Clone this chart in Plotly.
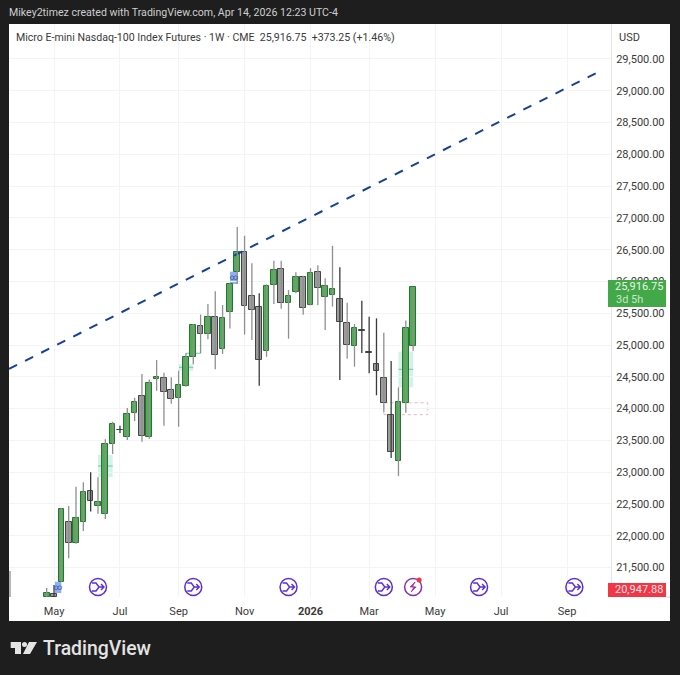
import pandas as pd
import plotly.graph_objects as go

# weekly candles, first one is the week of Apr 28 2025
first_week = "2025-04-28"
opens = [21035, 21090, 21280, 22210, 21880, 22210, 22705, 22475, 22340, 23445, 23665, 23560, 23935,
         24205, 23550, 24460, 24485, 24295, 24170, 24360, 24810, 25300, 25175, 25445, 24935, 25520,
         26150, 26470, 25765, 25595, 24900, 25940, 26200, 25665, 25835, 26070, 25630, 26150, 25760,
         25790, 25730, 25345, 24990, 25235, 24885, 24700, 24485, 23900, 23180, 24085, 24990]
highs = [21180, 21225, 22435, 22470, 22770, 22840, 23000, 22920, 23520, 23795, 23730, 24010, 24170,
         24545, 24460, 24765, 24565, 24495, 24595, 24870, 25330, 25480, 25645, 25845, 25630, 25980,
         26855, 26720, 26285, 25815, 25955, 26325, 26325, 25865, 26145, 26090, 26210, 26255, 26050,
         26560, 26225, 25665, 25330, 25695, 25445, 25420, 25195, 24750, 24335, 25385, 25916.75]
lows = [21030, 21035, 21275, 21645, 21875, 22075, 22380, 22345, 22265, 23285, 23615, 23505, 23805,
        23480, 23525, 24280, 23730, 24075, 23715, 24345, 24700, 24870, 25090, 24620, 24860, 25260,
        25960, 25165, 25080, 24360, 24815, 25645, 25570, 25100, 25815, 25475, 25625, 25625, 25235,
        25605, 24450, 24785, 24660, 24875, 24555, 24210, 23950, 23225, 22940, 23935, 24912]
closes = [21095, 21040, 22415, 21880, 22280, 22695, 22550, 22530, 23440, 23755, 23660, 23910, 24110,
          23575, 24400, 24505, 24260, 24155, 24375, 24810, 25315, 25175, 25435, 24850, 25430, 25955,
          26460, 25615, 25545, 24760, 25935, 26180, 25665, 25775, 26065, 25590, 26140, 25895, 25935,
          25875, 25370, 25005, 25270, 25215, 24870, 24590, 24090, 23315, 24110, 25265, 25916.75]
dark_wick_weeks = [1, 6, 10, 29, 40, 43, 44, 45, 47]

last_price = 25916.75
price_ticks = [21500, 22000, 22500, 23000, 23500, 24000, 24500, 25000, 25500, 26000, 26500, 27000,
               27500, 28000, 28500, 29000, 29500]
date_ticks = ["2025-05-05", "2025-07-07", "2025-09-01", "2025-11-03", "2026-01-05", "2026-03-02",
              "2026-05-04", "2026-07-06", "2026-09-07"]
date_labels = ["May", "Jul", "Sep", "Nov", "<b>2026</b>", "Mar", "May", "Jul", "Sep"]

trend_dates = ["2025-03-23", "2026-10-05"]
trend_prices = [24624, 29280]

# drawn zones: start, end, top, bottom
fvg_start = ["2025-06-16", "2025-09-01", "2026-03-30"]
fvg_end = ["2025-06-30", "2025-09-15", "2026-04-13"]
fvg_top = [23271, 24698, 24896]
fvg_bottom = [22925, 24597, 24336]
fvg_mid = [23098, 24650, 24619]
order_start = ["2025-05-05", "2025-10-20"]
order_end = ["2025-05-12", "2025-10-27"]
order_top = [21278, 26154]
order_bottom = [21100, 25961]
rollover_dates = ["2025-06-16", "2025-09-15", "2025-12-15", "2026-03-16", "2026-06-15", "2026-09-14"]
earnings_date = "2026-04-13"
icon_price = 21195

GREEN = "#4caf50"
GREEN_EDGE = "#2a7433"
GRAY = "#9c9c9c"
GRAY_EDGE = "#444444"
BG = "#1e1e1e"
PURPLE = "#5a2fd6"
FONT = "Roboto"

# pixel helpers for the non data furniture
L, R, T, B = 9, 611, 24, 597
def px(x):
    return (x - L) / (R - L)
def py(y):
    return (B - y) / (B - T)

weeks = pd.date_range(first_week, periods=len(opens), freq="7D")
df = pd.DataFrame({"date": weeks, "open": opens, "high": highs, "low": lows, "close": closes})
df["up"] = df["close"] >= df["open"]
df["dark"] = df.index.isin(dark_wick_weeks)

fig = go.Figure()

# zones sit under the candles
for x0, x1, y1, y0, mid in zip(fvg_start, fvg_end, fvg_top, fvg_bottom, fvg_mid):
    fig.add_shape(type="rect", x0=x0, x1=x1, y0=y0, y1=y1, layer="below",
                  fillcolor="rgba(120,205,190,0.30)", line_width=0)
    fig.add_shape(type="line", x0=x0, x1=x1, y0=mid, y1=mid, layer="below",
                  line=dict(color="#6cc7b4", width=1))
for x0, x1, y1, y0 in zip(order_start, order_end, order_top, order_bottom):
    fig.add_shape(type="rect", x0=x0, x1=x1, y0=y0, y1=y1, layer="below",
                  fillcolor="#8fb0f8", line_width=0)
    fig.add_annotation(x=pd.Timestamp(x0) + pd.Timedelta(days=3.5), y=(y0 + y1) / 2, text="∞",
                       showarrow=False, font=dict(family=FONT, size=8, color="#34508f"))
fig.add_shape(type="rect", x0="2026-03-16", x1="2026-04-27", y0=23905, y1=24092, layer="below",
              fillcolor="rgba(0,0,0,0)", line=dict(color="#efb4bb", width=1, dash="dot"))
fig.add_shape(type="line", x0="2025-09-08", x1="2025-09-22", y0=24871, y1=24871, layer="below",
              line=dict(color="#6cc7b4", width=1))

# last price line
fig.add_hline(y=last_price, line=dict(color="#7fa987", width=1, dash="dot"), layer="below")

# trend line
fig.add_trace(go.Scatter(x=trend_dates, y=trend_prices, mode="lines",
                         line=dict(color="#173f9e", width=2, dash="9px,9px"), hoverinfo="skip"))

# wicks
for is_dark, color in [(False, "#8f8f8f"), (True, "#3a3a3a")]:
    part = df[df["dark"] == is_dark]
    wick_x, wick_y = [], []
    for _, row in part.iterrows():
        wick_x += [row["date"], row["date"], None]
        wick_y += [row["low"], row["high"], None]
    fig.add_trace(go.Scatter(x=wick_x, y=wick_y, mode="lines", line=dict(color=color, width=1.3),
                             hoverinfo="skip"))

# bodies
for is_up, fill, edge in [(True, GREEN, GREEN_EDGE), (False, GRAY, GRAY_EDGE)]:
    part = df[df["up"] == is_up]
    fig.add_trace(go.Bar(x=part["date"], y=part["close"] - part["open"], base=part["open"],
                         width=5.4 * 86400000, marker=dict(color=fill, line=dict(color=edge, width=1))))

# events along the bottom
fig.add_trace(go.Scatter(x=rollover_dates, y=[icon_price] * len(rollover_dates), mode="markers",
                         marker=dict(symbol="circle-open", size=17, color=PURPLE, line=dict(width=1.5, color=PURPLE)),
                         hoverinfo="skip"))
fig.add_trace(go.Scatter(x=[earnings_date], y=[icon_price], mode="markers",
                         marker=dict(symbol="circle-open", size=17, color="#8a2fb5", line=dict(width=1.5, color="#8a2fb5")),
                         hoverinfo="skip"))
for d in rollover_dates:
    fig.add_shape(type="path", xref="x", yref="y", xsizemode="pixel", ysizemode="pixel",
                  xanchor=d, yanchor=icon_price,
                  path="M -6 -4 L -2 -4 L 1 0 L 6 0 M -6 4 L -2 4 L 1 0 M 3 -3 L 6 0 L 3 3",
                  line=dict(color=PURPLE, width=1.4))
fig.add_shape(type="path", xref="x", yref="y", xsizemode="pixel", ysizemode="pixel",
              xanchor=earnings_date, yanchor=icon_price,
              path="M 2 5 L -3 0 L 1 0 L -2 -5 L 3 0 L -1 0 Z",
              fillcolor="#a32a9c", line=dict(color="#a32a9c", width=0.8))
fig.add_shape(type="circle", xref="x", yref="y", xsizemode="pixel", ysizemode="pixel",
              xanchor=earnings_date, yanchor=icon_price, x0=3.5, x1=8.5, y0=4.5, y1=9.5,
              fillcolor="#f23645", line_width=0)

# white panel, price axis and labels
fig.add_shape(type="rect", xref="paper", yref="paper", x0=px(9), x1=px(670), y0=py(621), y1=py(24),
              fillcolor="white", line_width=0, layer="below")
fig.add_shape(type="rect", xref="paper", yref="paper", x0=px(9), x1=px(11), y0=py(597), y1=py(571),
              fillcolor="#b5b5b5", line_width=0)
fig.add_shape(type="rect", xref="paper", yref="paper", x0=px(608), x1=px(666), y0=py(307), y1=py(280),
              fillcolor="#43a848", line_width=0)
fig.add_shape(type="rect", xref="paper", yref="paper", x0=px(608), x1=px(666), y0=py(597), y1=py(583),
              fillcolor="#f23645", line_width=0)
fig.add_shape(type="line", xref="paper", yref="paper", x0=px(666), x1=px(670), y0=py(597), y1=py(597),
              line=dict(color="#cfcfcf", width=1))

# TradingView logo
logo = ("M 10.7 642 L 21 642 L 21 654 L 15 654 L 15 648 L 10.7 648 Z "
        "M 29 642 L 37 642 L 30 654 L 23 654 Z")
def logo_path():
    parts = logo.split()
    out, i = [], 0
    while i < len(parts):
        if parts[i] in "MLZ":
            out.append(parts[i])
            i += 1
        else:
            out.append(f"{px(float(parts[i])):.5f},{py(float(parts[i + 1])):.5f}")
            i += 2
    return " ".join(out)
fig.add_shape(type="path", xref="paper", yref="paper", path=logo_path(), fillcolor="#e4e4e4", line_width=0)
fig.add_shape(type="circle", xref="paper", yref="paper", x0=px(22), x1=px(27), y0=py(647), y1=py(642),
              fillcolor="#e4e4e4", line_width=0)

def label(x, y, text, color, size=11, anchor="left", weight=None):
    font = dict(family=FONT, size=size, color=color)
    if weight:
        font["weight"] = weight
    fig.add_annotation(xref="paper", yref="paper", x=px(x), y=py(y), text=text, showarrow=False,
                       xanchor=anchor, yanchor="middle", font=font, borderpad=0, borderwidth=0)

label(9, 13, "Mikey2timez created with TradingView.com, Apr 14, 2026 12:23 UTC-4", "#cfcfcf", 10.6)
label(16, 37, "Micro E-mini Nasdaq-100 Index Futures · 1W · CME  25,916.75  +373.25 (+1.46%)", "#3a3a3a", 10.6)
label(619, 38, "USD", "#3a3a3a", 11)
label(639, 287, "25,916.75", "#e8f5e9", 11, "center")
label(616, 299, "3d 5h", "#c8e6c9", 11)
label(639, 589.5, "20,947.88", "#fde3e5", 11, "center")
label(43, 648.5, "TradingView", "#e4e4e4", 19.4, weight=500)

fig.update_layout(
    width=680, height=675, autosize=False,
    margin=dict(l=L, r=680 - R, t=T, b=675 - B, pad=0),
    paper_bgcolor=BG, plot_bgcolor="white",
    showlegend=False, bargap=0,
    xaxis=dict(type="date", range=["2025-03-23", "2026-10-19"], tickmode="array", tickvals=date_ticks,
               ticktext=date_labels, showgrid=True, gridcolor="#f4f4f4", gridwidth=1, zeroline=False,
               showline=False, ticks="", tickfont=dict(family=FONT, size=11, color="#3a3a3a"),
               ticklabelstandoff=6, rangeslider_visible=False),
    yaxis=dict(range=[21037, 30050], side="right", tickmode="array", tickvals=price_ticks,
               tickformat=",.2f", showgrid=True, gridcolor="#f4f4f4", gridwidth=1, zeroline=False,
               showline=True, linecolor="#e6e6e6", ticks="", ticklabelstandoff=2,
               tickfont=dict(family=FONT, size=11, color="#3a3a3a")),
)

# page margin would push the figure 8px in
fig.write_html("out.html", config={"displayModeBar": False},
               post_script="document.body.style.margin='0';document.body.style.overflow='hidden';document.body.style.background='#1e1e1e';")
